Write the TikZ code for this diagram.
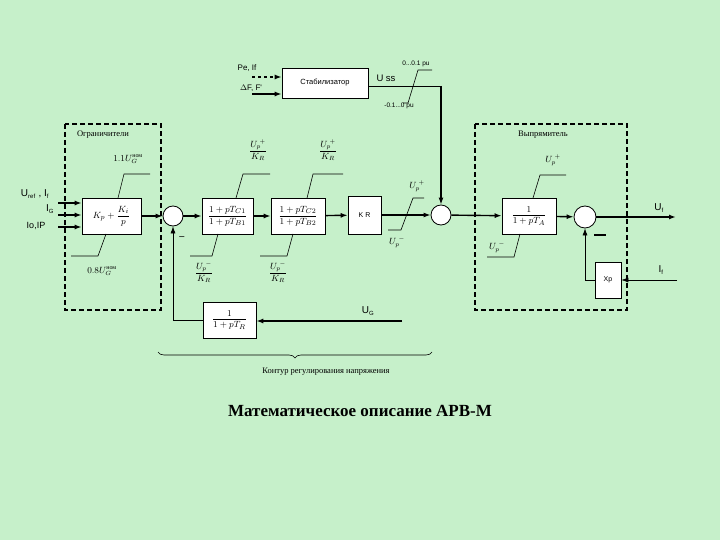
\documentclass[tikz,border=0pt]{standalone}
\usepackage{amsmath}
\usepackage{fontspec}
\setmainfont{Liberation Serif}
\newfontfamily\lab{Liberation Sans}
\usetikzlibrary{arrows.meta,decorations.pathreplacing}
\definecolor{bg}{RGB}{198,240,202}
\begin{document}
\begin{tikzpicture}[x=1pt,y=-1pt,
  blk/.style={draw,fill=white,line width=0.6pt,inner sep=0pt,font=\fontsize{9.5}{10}\selectfont},
  sumc/.style={draw,fill=white,circle,minimum size=20pt,inner sep=0pt,line width=0.8pt},
  sig/.style={line width=1.4pt,-{Latex[length=7pt,width=5pt]}},
  thin/.style={line width=0.6pt},
  box/.style={dashed,line width=1.2pt,dash pattern=on 5pt off 3pt},
  lb/.style={font=\lab\fontsize{8}{9}\selectfont,inner sep=0pt},
  ml/.style={font=\fontsize{9}{9}\selectfont,inner sep=0pt}]
\fill[bg] (0,0) rectangle (720,540);
\useasboundingbox (0,0) rectangle (720,540);
% dashed groups
\draw[box] (65,124) rectangle (161,310);
\draw[box] (475,124) rectangle (627,310);
\node[font=\fontsize{8.5}{9}\selectfont] at (103,135) {Ограничители};
\node[font=\fontsize{8.5}{9}\selectfont] at (543,135) {Выпрямитель};
% stabilizer
\node[blk,minimum width=86pt,minimum height=30pt,font=\lab\fontsize{7.5}{9}\selectfont] (st) at (325,83) {Стабилизатор};
\coordinate (pe) at (252,77); \coordinate (df) at (252,94);
\draw[line width=1.4pt,dashed,-{Latex[length=7pt,width=5pt]}] (pe) -- (pe-|st.west);
\draw[sig] (df) -- (df-|st.west);
\node[lb] at (247,68) {Pe, If};
\node[lb] at (251,88) {$\Delta$F, F'};
\node[lb,font=\lab\fontsize{9.5}{10}\selectfont] at (386,78) {U ss};
\coordinate (c1) at (441,86);
\draw[thin] (st.east|-c1) -- (c1);
\draw[thin] (403,103) -- (408,103) -- (418,70) -- (432,70);
\node[lb,font=\lab\fontsize{6.5}{7}\selectfont] at (416,64) {0...0.1 pu};
\node[lb,font=\lab\fontsize{6.5}{7}\selectfont] at (399,106) {-0.1...0 pu};
% inputs
\node[blk,minimum width=59pt,minimum height=36pt] (kp) at (111.5,216) {$K_p+\dfrac{K_i}{p}$};
\foreach \y in {203,215,227}{\coordinate (i\y) at (58,\y); \draw[sig] (i\y) -- (i\y-|kp.west);}
\node[lb,font=\lab\fontsize{10}{10}\selectfont] at (35,194) {U\textsubscript{\fontsize{6}{6}\selectfont ref} , I\textsubscript{\fontsize{6}{6}\selectfont f}};
\node[lb,font=\lab\fontsize{10}{10}\selectfont] at (50,209) {I\textsubscript{\fontsize{6}{6}\selectfont G}};
\node[lb,font=\lab\fontsize{9}{10}\selectfont] at (36,226) {Io,IP};
\draw[thin] (118,198) -- (124,174) -- (150,174);
\draw[thin] (106,234) -- (98,256) -- (71,256);
\node[ml] at (128,159) {$1.1U_G^{\text{ном}}$};
\node[ml] at (102,271) {$0.8U_G^{\text{ном}}$};
% sum1
\node[sumc] (s1) at (173,216) {};
\draw[sig] (kp) -- (s1);
\node[blk,minimum width=51pt,minimum height=36pt] (b1) at (227.5,216) {$\dfrac{1+pT_{C1}}{1+pT_{B1}}$};
\node[blk,minimum width=54pt,minimum height=36pt] (b2) at (298,216) {$\dfrac{1+pT_{C2}}{1+pT_{B2}}$};
\node[blk,minimum width=33pt,minimum height=38pt,font=\lab\fontsize{7}{8}\selectfont] (kr) at (364.5,215) {K R};
\draw[sig] (s1) -- (b1); \draw[sig] (b1) -- (b2); \draw[sig] (b2) -- (kr);
\node at (182,238) {\textbf{--}};
\draw[thin] (236,198) -- (243,174) -- (270,174);
\draw[thin] (218,234) -- (212,256) -- (190,256);
\draw[thin] (307,198) -- (313,174) -- (343,174);
\draw[thin] (293,234) -- (287,256) -- (260,256);
\foreach \x/\y in {258/150,328/150}{\node[ml] at (\x,\y) {$\dfrac{U_p^{\;+}}{K_R}$};}
\foreach \x/\y in {204/272,278/272}{\node[ml] at (\x,\y) {$\dfrac{U_p^{\;-}}{K_R}$};}
% sum2
\node[sumc] (s2) at (441,215) {};
\draw[sig] (kr) -- (s2);
\draw[thin] (388,230) -- (401,230) -- (413,198) -- (424,198);
\node[ml] at (417,186) {$U_p^{\;+}$};
\node[ml] at (397,242) {$U_p^{\;-}$};
\draw[sig] (c1) -- (s2);
% rectifier
\node[blk,minimum width=54pt,minimum height=36pt] (ba) at (529,216) {$\dfrac{1}{1+pT_A}$};
\draw[sig] (s2) -- (ba);
\draw[thin] (533,198) -- (540,175) -- (566,175);
\draw[thin] (520,234) -- (514,257) -- (487,257);
\node[ml] at (553,160) {$U_p^{\;+}$};
\node[ml] at (497,247) {$U_p^{\;-}$};
\node[sumc,minimum size=22pt] (s3) at (585,217) {};
\draw[sig] (ba) -- (s3);
\coordinate (uf) at (676,217);
\draw[sig] (s3) -- (uf);
\node[lb,font=\lab\fontsize{10}{10}\selectfont] at (659,208) {U\textsubscript{\fontsize{6}{6}\selectfont f}};
\draw[line width=1.4pt] (594,235) -- (606,235);
\node[blk,minimum width=26pt,minimum height=36pt,font=\lab\fontsize{7}{8}\selectfont] (xp) at (608,280) {Xp};
\coordinate (if) at (677,280);
\draw[thin,-{Latex[length=7pt,width=5pt]}] (if) -- (xp);
\node[lb,font=\lab\fontsize{10}{10}\selectfont] at (661,270) {I\textsubscript{\fontsize{6}{6}\selectfont f}};
\draw[thin,-{Latex[length=7pt,width=5pt]}] (xp.west) -- (585,280) -- (s3);
% feedback
\node[blk,minimum width=53pt,minimum height=36pt] (fb) at (229.5,320) {$\dfrac{1}{1+pT_R}$};
\coordinate (ug) at (402,321);
\draw[sig] (ug) -- (fb.east|-ug);
\node[lb,font=\lab\fontsize{10}{10}\selectfont] at (368,311) {U\textsubscript{\fontsize{6}{6}\selectfont G}};
\draw[thin,-{Latex[length=7pt,width=5pt]}] (fb.west) -- (173,320) -- (s1);
% brace
\draw[thin,decorate,decoration={brace,mirror,amplitude=6pt}] (158,352) -- (432,352);
\node[font=\fontsize{8.5}{9}\selectfont] at (326,372) {Контур регулирования напряжения};
\node[font=\bfseries\fontsize{17}{18}\selectfont] at (360,411) {Математическое описание АРВ-М};
\end{tikzpicture}
\end{document}
